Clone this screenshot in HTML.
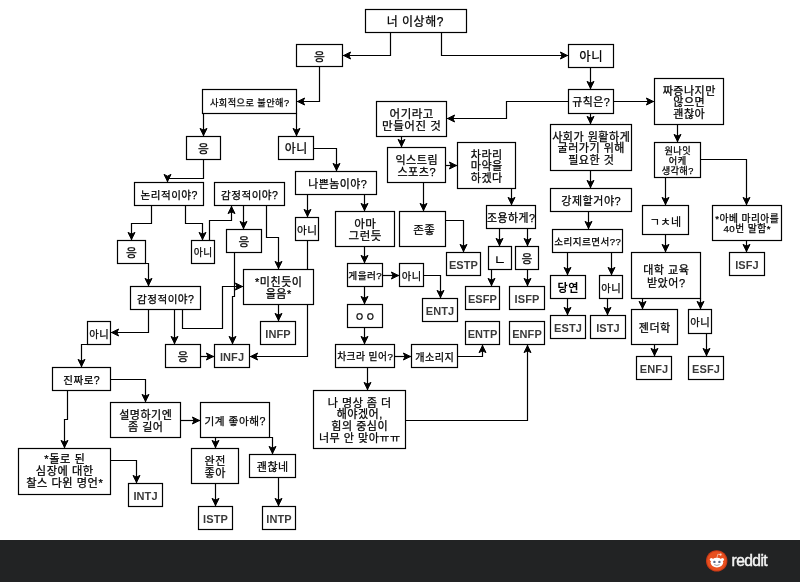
<!DOCTYPE html>
<html lang="ko">
<head>
<meta charset="utf-8">
<title>너 이상해? MBTI 순서도</title>
<style>
html,body{margin:0;padding:0;background:#fff;}
body{width:800px;height:582px;overflow:hidden;position:relative;font-family:"Liberation Sans", "Noto Sans CJK KR", sans-serif;}
svg{display:block;position:absolute;left:0;top:0;will-change:transform;}
.bx{fill:#fff;stroke:#000;stroke-width:1.2;}
.ln{fill:none;stroke:#000;stroke-width:1.2;}
.ah{fill:#000;stroke:#000;stroke-width:1;stroke-linejoin:miter;}
text{font-family:"Liberation Sans", "Noto Sans CJK KR", sans-serif;fill:#000;text-anchor:middle;}
.k{font-weight:400;stroke:#000;stroke-width:0.25px;}
.b{font-weight:700;}
.m{font-family:"Liberation Sans", sans-serif;font-weight:700;fill:#3a3a3a;letter-spacing:0.1px;}
.ft{fill:#222324;}
.rd{font-family:"Liberation Sans", sans-serif;fill:#f4f4f4;stroke:#f4f4f4;stroke-width:0.45px;text-anchor:start;font-size:15.6px;letter-spacing:-0.6px;}
</style>
</head>
<body>
<svg width="800" height="582" viewBox="0 0 800 582">
<rect x="0" y="0" width="800" height="582" fill="#fff"/>
<g class="lines">
<path class="ln" d="M390.5 32.5 L390.5 55.5 L342.5 55.5"/><polygon class="ah" points="343.60,55.50 350.60,52.00 348.85,55.50 350.60,59.00"/>
<path class="ln" d="M441.5 32.5 L441.5 55.5 L568.5 55.5"/><polygon class="ah" points="567.40,55.50 560.40,59.00 562.15,55.50 560.40,52.00"/>
<path class="ln" d="M319.5 66.5 L319.5 101.5 L296.5 101.5"/><polygon class="ah" points="297.60,101.50 304.60,98.00 302.85,101.50 304.60,105.00"/>
<path class="ln" d="M203.5 113.5 L203.5 136.5"/><polygon class="ah" points="203.50,135.40 200.00,128.40 203.50,130.15 207.00,128.40"/>
<path class="ln" d="M296.5 113.5 L296.5 136.5"/><polygon class="ah" points="296.50,135.40 293.00,128.40 296.50,130.15 300.00,128.40"/>
<path class="ln" d="M203.5 159.5 L203.5 178.5 L167.5 178.5 L167.5 182.5"/><polygon class="ah" points="167.50,181.40 164.00,174.40 167.50,176.15 171.00,174.40"/>
<path class="ln" d="M313.5 148.5 L336.5 148.5 L336.5 171.5"/><polygon class="ah" points="336.50,170.40 333.00,163.40 336.50,165.15 340.00,163.40"/>
<path class="ln" d="M151.5 205.5 L151.5 223.5 L131.5 223.5 L131.5 240.5"/><polygon class="ah" points="131.50,239.40 128.00,232.40 131.50,234.15 135.00,232.40"/>
<path class="ln" d="M185.5 205.5 L185.5 223.5 L202.5 223.5 L202.5 240.5"/><polygon class="ah" points="202.50,239.40 199.00,232.40 202.50,234.15 206.00,232.40"/>
<path class="ln" d="M209.5 240.5 L209.5 220.5 L231.5 220.5 L231.5 205.5"/><polygon class="ah" points="231.50,206.60 235.00,213.60 231.50,211.85 228.00,213.60"/>
<path class="ln" d="M243.5 205.5 L243.5 229.5"/><polygon class="ah" points="243.50,228.40 240.00,221.40 243.50,223.15 247.00,221.40"/>
<path class="ln" d="M266.5 205.5 L266.5 237.5 L278.5 237.5 L278.5 269.5"/><polygon class="ah" points="278.50,268.40 275.00,261.40 278.50,263.15 282.00,261.40"/>
<path class="ln" d="M234.5 252.5 L234.5 296.5 L232.5 296.5 L232.5 344.5"/><polygon class="ah" points="232.50,343.40 229.00,336.40 232.50,338.15 236.00,336.40"/>
<path class="ln" d="M145.5 263.5 L148.5 263.5 L148.5 286.5"/><polygon class="ah" points="148.50,285.40 145.00,278.40 148.50,280.15 152.00,278.40"/>
<path class="ln" d="M182.5 309.5 L182.5 328.5 L222.5 328.5 L222.5 286.5 L243.5 286.5"/><polygon class="ah" points="242.40,286.50 235.40,290.00 237.15,286.50 235.40,283.00"/>
<path class="ln" d="M278.5 304.5 L278.5 321.5"/><polygon class="ah" points="278.50,320.40 275.00,313.40 278.50,315.15 282.00,313.40"/>
<path class="ln" d="M148.5 309.5 L148.5 332.5 L110.5 332.5"/><polygon class="ah" points="111.60,332.50 118.60,329.00 116.85,332.50 118.60,336.00"/>
<path class="ln" d="M174.5 309.5 L174.5 344.5"/><polygon class="ah" points="174.50,343.40 171.00,336.40 174.50,338.15 178.00,336.40"/>
<path class="ln" d="M200.5 356.5 L214.5 356.5"/><polygon class="ah" points="213.40,356.50 206.40,360.00 208.15,356.50 206.40,353.00"/>
<path class="ln" d="M87.5 344.5 L81.5 344.5 L81.5 367.5"/><polygon class="ah" points="81.50,366.40 78.00,359.40 81.50,361.15 85.00,359.40"/>
<path class="ln" d="M110.5 379.5 L145.5 379.5 L145.5 402.5"/><polygon class="ah" points="145.50,401.40 142.00,394.40 145.50,396.15 149.00,394.40"/>
<path class="ln" d="M67.5 390.5 L67.5 419.5 L64.5 419.5 L64.5 448.5"/><polygon class="ah" points="64.50,447.40 61.00,440.40 64.50,442.15 68.00,440.40"/>
<path class="ln" d="M180.5 420.5 L200.5 420.5"/><polygon class="ah" points="199.40,420.50 192.40,424.00 194.15,420.50 192.40,417.00"/>
<path class="ln" d="M110.5 460.5 L136.5 460.5 L136.5 483.5"/><polygon class="ah" points="136.50,482.40 133.00,475.40 136.50,477.15 140.00,475.40"/>
<path class="ln" d="M215.5 437.5 L215.5 448.5"/><polygon class="ah" points="215.50,447.40 212.00,440.40 215.50,442.15 219.00,440.40"/>
<path class="ln" d="M269.5 437.5 L272.5 437.5 L272.5 454.5"/><polygon class="ah" points="272.50,453.40 269.00,446.40 272.50,448.15 276.00,446.40"/>
<path class="ln" d="M215.5 483.5 L215.5 506.5"/><polygon class="ah" points="215.50,505.40 212.00,498.40 215.50,500.15 219.00,498.40"/>
<path class="ln" d="M278.5 477.5 L278.5 506.5"/><polygon class="ah" points="278.50,505.40 275.00,498.40 278.50,500.15 282.00,498.40"/>
<path class="ln" d="M307.5 194.5 L307.5 217.5"/><polygon class="ah" points="307.50,216.40 304.00,209.40 307.50,211.15 311.00,209.40"/>
<path class="ln" d="M307.5 240.5 L307.5 356.5 L249.5 356.5"/><polygon class="ah" points="250.60,356.50 257.60,353.00 255.85,356.50 257.60,360.00"/>
<path class="ln" d="M364.5 194.5 L364.5 211.5"/><polygon class="ah" points="364.50,210.40 361.00,203.40 364.50,205.15 368.00,203.40"/>
<path class="ln" d="M364.5 246.5 L364.5 263.5"/><polygon class="ah" points="364.50,262.40 361.00,255.40 364.50,257.15 368.00,255.40"/>
<path class="ln" d="M382.5 275.5 L399.5 275.5"/><polygon class="ah" points="398.40,275.50 391.40,279.00 393.15,275.50 391.40,272.00"/>
<path class="ln" d="M423.5 275.5 L440.5 275.5 L440.5 298.5"/><polygon class="ah" points="440.50,297.40 437.00,290.40 440.50,292.15 444.00,290.40"/>
<path class="ln" d="M364.5 286.5 L364.5 304.5"/><polygon class="ah" points="364.50,303.40 361.00,296.40 364.50,298.15 368.00,296.40"/>
<path class="ln" d="M364.5 327.5 L364.5 344.5"/><polygon class="ah" points="364.50,343.40 361.00,336.40 364.50,338.15 368.00,336.40"/>
<path class="ln" d="M394.5 356.5 L411.5 356.5"/><polygon class="ah" points="410.40,356.50 403.40,360.00 405.15,356.50 403.40,353.00"/>
<path class="ln" d="M457.5 356.5 L482.5 356.5 L482.5 344.5"/><polygon class="ah" points="482.50,345.60 486.00,352.60 482.50,350.85 479.00,352.60"/>
<path class="ln" d="M367.5 367.5 L367.5 390.5"/><polygon class="ah" points="367.50,389.40 364.00,382.40 367.50,384.15 371.00,382.40"/>
<path class="ln" d="M405.5 420.5 L527.5 420.5 L527.5 344.5"/><polygon class="ah" points="527.50,345.60 531.00,352.60 527.50,350.85 524.00,352.60"/>
<path class="ln" d="M590.5 67.5 L590.5 89.5"/><polygon class="ah" points="590.50,88.40 587.00,81.40 590.50,83.15 594.00,81.40"/>
<path class="ln" d="M568.5 101.5 L506.5 101.5 L506.5 118.5 L446.5 118.5"/><polygon class="ah" points="447.60,118.50 454.60,115.00 452.85,118.50 454.60,122.00"/>
<path class="ln" d="M613.5 101.5 L654.5 101.5"/><polygon class="ah" points="653.40,101.50 646.40,105.00 648.15,101.50 646.40,98.00"/>
<path class="ln" d="M590.5 113.5 L590.5 124.5"/><polygon class="ah" points="590.50,123.40 587.00,116.40 590.50,118.15 594.00,116.40"/>
<path class="ln" d="M401.5 136.5 L401.5 147.5"/><polygon class="ah" points="401.50,146.40 398.00,139.40 401.50,141.15 405.00,139.40"/>
<path class="ln" d="M445.5 165.5 L457.5 165.5"/><polygon class="ah" points="456.40,165.50 449.40,169.00 451.15,165.50 449.40,162.00"/>
<path class="ln" d="M423.5 182.5 L423.5 211.5"/><polygon class="ah" points="423.50,210.40 420.00,203.40 423.50,205.15 427.00,203.40"/>
<path class="ln" d="M445.5 220.5 L463.5 220.5 L463.5 252.5"/><polygon class="ah" points="463.50,251.40 460.00,244.40 463.50,246.15 467.00,244.40"/>
<path class="ln" d="M511.5 188.5 L511.5 205.5"/><polygon class="ah" points="511.50,204.40 508.00,197.40 511.50,199.15 515.00,197.40"/>
<path class="ln" d="M499.5 228.5 L499.5 246.5"/><polygon class="ah" points="499.50,245.40 496.00,238.40 499.50,240.15 503.00,238.40"/>
<path class="ln" d="M527.5 228.5 L527.5 246.5"/><polygon class="ah" points="527.50,245.40 524.00,238.40 527.50,240.15 531.00,238.40"/>
<path class="ln" d="M491.5 269.5 L491.5 286.5"/><polygon class="ah" points="491.50,285.40 488.00,278.40 491.50,280.15 495.00,278.40"/>
<path class="ln" d="M527.5 269.5 L527.5 286.5"/><polygon class="ah" points="527.50,285.40 524.00,278.40 527.50,280.15 531.00,278.40"/>
<path class="ln" d="M590.5 170.5 L590.5 188.5"/><polygon class="ah" points="590.50,187.40 587.00,180.40 590.50,182.15 594.00,180.40"/>
<path class="ln" d="M588.5 211.5 L588.5 229.5"/><polygon class="ah" points="588.50,228.40 585.00,221.40 588.50,223.15 592.00,221.40"/>
<path class="ln" d="M567.5 252.5 L567.5 275.5"/><polygon class="ah" points="567.50,274.40 564.00,267.40 567.50,269.15 571.00,267.40"/>
<path class="ln" d="M611.5 252.5 L611.5 275.5"/><polygon class="ah" points="611.50,274.40 608.00,267.40 611.50,269.15 615.00,267.40"/>
<path class="ln" d="M567.5 298.5 L567.5 315.5"/><polygon class="ah" points="567.50,314.40 564.00,307.40 567.50,309.15 571.00,307.40"/>
<path class="ln" d="M607.5 298.5 L607.5 315.5"/><polygon class="ah" points="607.50,314.40 604.00,307.40 607.50,309.15 611.00,307.40"/>
<path class="ln" d="M677.5 124.5 L677.5 142.5"/><polygon class="ah" points="677.50,141.40 674.00,134.40 677.50,136.15 681.00,134.40"/>
<path class="ln" d="M665.5 177.5 L665.5 205.5"/><polygon class="ah" points="665.50,204.40 662.00,197.40 665.50,199.15 669.00,197.40"/>
<path class="ln" d="M700.5 159.5 L746.5 159.5 L746.5 205.5"/><polygon class="ah" points="746.50,204.40 743.00,197.40 746.50,199.15 750.00,197.40"/>
<path class="ln" d="M746.5 240.5 L746.5 252.5"/><polygon class="ah" points="746.50,251.40 743.00,244.40 746.50,246.15 750.00,244.40"/>
<path class="ln" d="M665.5 234.5 L665.5 252.5"/><polygon class="ah" points="665.50,251.40 662.00,244.40 665.50,246.15 669.00,244.40"/>
<path class="ln" d="M642.5 298.5 L642.5 309.5"/><polygon class="ah" points="642.50,308.40 639.00,301.40 642.50,303.15 646.00,301.40"/>
<path class="ln" d="M700.5 298.5 L700.5 309.5"/><polygon class="ah" points="700.50,308.40 697.00,301.40 700.50,303.15 704.00,301.40"/>
<path class="ln" d="M654.5 344.5 L654.5 356.5"/><polygon class="ah" points="654.50,355.40 651.00,348.40 654.50,350.15 658.00,348.40"/>
<path class="ln" d="M706.5 333.5 L706.5 356.5"/><polygon class="ah" points="706.50,355.40 703.00,348.40 706.50,350.15 710.00,348.40"/>
</g>
<g class="boxes">
<rect class="bx" x="365.5" y="9.5" width="101" height="23"/><text class="k" x="415.275" y="26.21" font-size="11.96" letter-spacing="0.55">너 이상해?</text>
<rect class="bx" x="296.5" y="44.5" width="46" height="22"/><text class="k" x="319.77" y="60.64" font-size="11.78" letter-spacing="0.54">응</text>
<rect class="bx" x="568.5" y="44.5" width="45" height="23"/><text class="k" x="591.285" y="61.37" font-size="12.42" letter-spacing="0.57">아니</text>
<rect class="bx" x="202.5" y="89.5" width="94" height="24"/><text class="k" x="249.71" y="105.71" font-size="9.2" letter-spacing="0.42">사회적으로 불안해?</text>
<rect class="bx" x="568.5" y="89.5" width="45" height="24"/><text class="k" x="591.25" y="106.31" font-size="10.86" letter-spacing="0.5">규칙은?</text>
<rect class="bx" x="186.5" y="136.5" width="34" height="23"/><text class="k" x="203.77" y="153.14" font-size="11.78" letter-spacing="0.54">응</text>
<rect class="bx" x="278.5" y="136.5" width="35" height="23"/><text class="k" x="296.275" y="153.21" font-size="11.96" letter-spacing="0.55">아니</text>
<rect class="bx" x="295.5" y="171.5" width="81" height="23"/><text class="k" x="337.75" y="187.81" font-size="10.86" letter-spacing="0.5">나쁜놈이야?</text>
<rect class="bx" x="134.5" y="182.5" width="69" height="23"/><text class="k" x="169.24" y="198.71" font-size="10.58" letter-spacing="0.48">논리적이야?</text>
<rect class="bx" x="214.5" y="182.5" width="70" height="23"/><text class="k" x="249.74" y="198.71" font-size="10.58" letter-spacing="0.48">감정적이야?</text>
<rect class="bx" x="117.5" y="240.5" width="28" height="23"/><text class="k" x="131.77" y="257.14" font-size="11.78" letter-spacing="0.54">응</text>
<rect class="bx" x="191.5" y="240.5" width="23" height="23"/><text class="k" x="203.225" y="256.41" font-size="9.75" letter-spacing="0.45">아니</text>
<rect class="bx" x="226.5" y="229.5" width="35" height="23"/><text class="k" x="244.27" y="246.14" font-size="11.78" letter-spacing="0.54">응</text>
<rect class="bx" x="295.5" y="217.5" width="23" height="23"/><text class="k" x="307.24" y="233.71" font-size="10.58" letter-spacing="0.48">아니</text>
<rect class="bx" x="335.5" y="211.5" width="59" height="35"/><text class="k" x="365.265" y="227.91" font-size="11.5" letter-spacing="0.53">아마</text><text class="k" x="365.265" y="240.16" font-size="11.5" letter-spacing="0.53">그런듯</text>
<rect class="bx" x="243.5" y="269.5" width="70" height="35"/><text class="k" x="278.75" y="285.99" font-size="11.04" letter-spacing="0.5">*미친듯이</text><text class="k" x="278.75" y="297.75" font-size="11.04" letter-spacing="0.5">울음*</text>
<rect class="bx" x="347.5" y="263.5" width="35" height="23"/><text class="k" x="365.22" y="279.38" font-size="9.66" letter-spacing="0.44">게을러?</text>
<rect class="bx" x="399.5" y="263.5" width="24" height="23"/><text class="k" x="411.735" y="279.61" font-size="10.3" letter-spacing="0.47">아니</text>
<rect class="bx" x="130.5" y="286.5" width="70" height="23"/><text class="k" x="165.74" y="302.71" font-size="10.58" letter-spacing="0.48">감정적이야?</text>
<rect class="bx" x="87.5" y="321.5" width="23" height="23"/><text class="k" x="99.235" y="337.61" font-size="10.3" letter-spacing="0.47">아니</text>
<rect class="bx" x="165.5" y="344.5" width="35" height="23"/><text class="k" x="183.27" y="361.14" font-size="11.78" letter-spacing="0.54">응</text>
<rect class="bx" x="214.5" y="344.5" width="35" height="23"/><text class="m" x="232" y="360.86" font-size="11">INFJ</text>
<rect class="bx" x="260.5" y="321.5" width="35" height="23"/><text class="m" x="278" y="337.86" font-size="11">INFP</text>
<rect class="bx" x="347.5" y="304.5" width="35" height="23"/><text class="k" x="365.25" y="320.87" font-size="11.04" letter-spacing="0.5">ㅇㅇ</text>
<rect class="bx" x="335.5" y="344.5" width="59" height="23"/><text class="k" x="365.225" y="360.41" font-size="9.75" letter-spacing="0.45">차크라 믿어?</text>
<rect class="bx" x="411.5" y="344.5" width="46" height="23"/><text class="k" x="434.73" y="360.54" font-size="10.12" letter-spacing="0.46">개소리지</text>
<rect class="bx" x="52.5" y="367.5" width="58" height="23"/><text class="k" x="81.74" y="383.71" font-size="10.58" letter-spacing="0.48">진짜로?</text>
<rect class="bx" x="110.5" y="402.5" width="70" height="35"/><text class="k" x="145.75" y="418.99" font-size="11.04" letter-spacing="0.5">설명하기엔</text><text class="k" x="145.75" y="430.75" font-size="11.04" letter-spacing="0.5">좀 길어</text>
<rect class="bx" x="200.5" y="402.5" width="69" height="35"/><text class="k" x="235.245" y="424.74" font-size="10.67" letter-spacing="0.49">기계 좋아해?</text>
<rect class="bx" x="313.5" y="390.5" width="92" height="58"/><text class="k" x="359.75" y="406.73" font-size="11.04" letter-spacing="0.5">나 명상 좀 더</text><text class="k" x="359.75" y="418.49" font-size="11.04" letter-spacing="0.5">해야겠어,</text><text class="k" x="359.75" y="430.25" font-size="11.04" letter-spacing="0.5">힘의 중심이</text><text class="k" x="359.75" y="442.01" font-size="11.04" letter-spacing="0.5">너무 안 맞아ㅠㅠ</text>
<rect class="bx" x="18.5" y="448.5" width="92" height="46"/><text class="k" x="64.755" y="463.34" font-size="11.22" letter-spacing="0.51">*돌로 된</text><text class="k" x="64.755" y="475.24" font-size="11.22" letter-spacing="0.51">심장에 대한</text><text class="k" x="64.755" y="487.14" font-size="11.22" letter-spacing="0.51">찰스 다윈 명언*</text>
<rect class="bx" x="128.5" y="483.5" width="34" height="23"/><text class="m" x="145.5" y="499.86" font-size="11">INTJ</text>
<rect class="bx" x="191.5" y="448.5" width="47" height="35"/><text class="k" x="215.25" y="464.99" font-size="11.04" letter-spacing="0.5">완전</text><text class="k" x="215.25" y="476.75" font-size="11.04" letter-spacing="0.5">좋아</text>
<rect class="bx" x="249.5" y="454.5" width="46" height="23"/><text class="k" x="272.75" y="470.87" font-size="11.04" letter-spacing="0.5">괜찮네</text>
<rect class="bx" x="198.5" y="506.5" width="34" height="23"/><text class="m" x="215.5" y="522.86" font-size="11">ISTP</text>
<rect class="bx" x="262.5" y="506.5" width="33" height="23"/><text class="m" x="279" y="522.86" font-size="11">INTP</text>
<rect class="bx" x="376.5" y="101.5" width="70" height="35"/><text class="k" x="411.765" y="117.92" font-size="11.5" letter-spacing="0.53">어기라고</text><text class="k" x="411.765" y="130.16" font-size="11.5" letter-spacing="0.53">만들어진 것</text>
<rect class="bx" x="387.5" y="147.5" width="58" height="35"/><text class="k" x="416.75" y="163.99" font-size="11.04" letter-spacing="0.5">익스트림</text><text class="k" x="416.75" y="175.75" font-size="11.04" letter-spacing="0.5">스포츠?</text>
<rect class="bx" x="457.5" y="142.5" width="58" height="46"/><text class="k" x="486.75" y="158.61" font-size="11.04" letter-spacing="0.5">차라리</text><text class="k" x="486.75" y="170.37" font-size="11.04" letter-spacing="0.5">마약을</text><text class="k" x="486.75" y="182.13" font-size="11.04" letter-spacing="0.5">하겠다</text>
<rect class="bx" x="399.5" y="211.5" width="46" height="35"/><text class="k" x="424.265" y="234.04" font-size="11.5" letter-spacing="0.53">존좋</text>
<rect class="bx" x="446.5" y="252.5" width="34" height="23"/><text class="m" x="463.5" y="268.86" font-size="11">ESTP</text>
<rect class="bx" x="486.5" y="205.5" width="49" height="23"/><text class="k" x="511.25" y="221.81" font-size="10.86" letter-spacing="0.5">조용하게?</text>
<rect class="bx" x="488.5" y="246.5" width="23" height="23"/><text class="k" x="500.295" y="264.34" font-size="12.88" letter-spacing="0.59">ㄴ</text>
<rect class="bx" x="515.5" y="246.5" width="23" height="23"/><text class="k" x="527.27" y="263.14" font-size="11.78" letter-spacing="0.54">응</text>
<rect class="bx" x="465.5" y="286.5" width="34" height="23"/><text class="m" x="482.5" y="302.86" font-size="11">ESFP</text>
<rect class="bx" x="509.5" y="286.5" width="35" height="23"/><text class="m" x="527" y="302.86" font-size="11">ISFP</text>
<rect class="bx" x="465.5" y="321.5" width="34" height="23"/><text class="m" x="482.5" y="337.86" font-size="11">ENTP</text>
<rect class="bx" x="509.5" y="321.5" width="35" height="23"/><text class="m" x="527" y="337.86" font-size="11">ENFP</text>
<rect class="bx" x="422.5" y="298.5" width="35" height="23"/><text class="m" x="440" y="314.86" font-size="11">ENTJ</text>
<rect class="bx" x="550.5" y="124.5" width="81" height="46"/><text class="k" x="591.25" y="140.61" font-size="11.04" letter-spacing="0.5">사회가 원활하게</text><text class="k" x="591.25" y="152.37" font-size="11.04" letter-spacing="0.5">굴러가기 위해</text><text class="k" x="591.25" y="164.13" font-size="11.04" letter-spacing="0.5">필요한 것</text>
<rect class="bx" x="550.5" y="188.5" width="81" height="23"/><text class="k" x="591.25" y="204.87" font-size="11.04" letter-spacing="0.5">강제할거야?</text>
<rect class="bx" x="552.5" y="229.5" width="70" height="23"/><text class="k" x="587.72" y="245.35" font-size="9.57" letter-spacing="0.44">소리지르면서??</text>
<rect class="bx" x="550.5" y="275.5" width="35" height="23"/><text class="b" x="568.25" y="291.87" font-size="11.04" letter-spacing="0.5">당연</text>
<rect class="bx" x="599.5" y="275.5" width="23" height="23"/><text class="k" x="611.235" y="291.61" font-size="10.3" letter-spacing="0.47">아니</text>
<rect class="bx" x="550.5" y="315.5" width="35" height="23"/><text class="m" x="568" y="331.86" font-size="11">ESTJ</text>
<rect class="bx" x="590.5" y="315.5" width="35" height="23"/><text class="m" x="608" y="331.86" font-size="11">ISTJ</text>
<rect class="bx" x="654.5" y="78.5" width="69" height="46"/><text class="k" x="689.25" y="94.61" font-size="11.04" letter-spacing="0.5">짜증나지만</text><text class="k" x="689.25" y="106.37" font-size="11.04" letter-spacing="0.5">않으면</text><text class="k" x="689.25" y="118.13" font-size="11.04" letter-spacing="0.5">괜찮아</text>
<rect class="bx" x="654.5" y="142.5" width="46" height="35"/><text class="k" x="677.71" y="154.41" font-size="9.2" letter-spacing="0.42">원나잇</text><text class="k" x="677.71" y="164.21" font-size="9.2" letter-spacing="0.42">어케</text><text class="k" x="677.71" y="174.01" font-size="9.2" letter-spacing="0.42">생각해?</text>
<rect class="bx" x="642.5" y="205.5" width="46" height="29"/><text class="k" x="665.75" y="226.37" font-size="11.04" letter-spacing="0.5">ㄱㅊ네</text>
<rect class="bx" x="712.5" y="205.5" width="69" height="35"/><text class="k" x="747.225" y="221.81" font-size="9.75" letter-spacing="0.45">*아베 마리아를</text><text class="k" x="747.225" y="231.81" font-size="9.75" letter-spacing="0.45">40번 말함*</text>
<rect class="bx" x="729.5" y="252.5" width="35" height="23"/><text class="m" x="747" y="268.86" font-size="11">ISFJ</text>
<rect class="bx" x="631.5" y="252.5" width="69" height="46"/><text class="k" x="666.25" y="274.12" font-size="11.04" letter-spacing="0.5">대학 교육</text><text class="k" x="666.25" y="286.62" font-size="11.04" letter-spacing="0.5">받았어?</text>
<rect class="bx" x="631.5" y="309.5" width="46" height="35"/><text class="k" x="654.75" y="331.87" font-size="11.04" letter-spacing="0.5">젠더학</text>
<rect class="bx" x="688.5" y="309.5" width="23" height="24"/><text class="k" x="700.235" y="326.11" font-size="10.3" letter-spacing="0.47">아니</text>
<rect class="bx" x="636.5" y="356.5" width="35" height="23"/><text class="m" x="654" y="372.86" font-size="11">ENFJ</text>
<rect class="bx" x="688.5" y="356.5" width="35" height="23"/><text class="m" x="706" y="372.86" font-size="11">ESFJ</text>
</g>
<rect class="ft" x="0" y="540" width="800" height="42"/>
<g class="reddit">
<circle cx="716.7" cy="560.9" r="10.7" fill="#c93a17"/>
<circle cx="716.7" cy="560.9" r="9.6" fill="#e8501f"/>
<ellipse cx="716.9" cy="562.6" rx="6.3" ry="4.8" fill="#fff"/>
<circle cx="711.4" cy="559.6" r="1.6" fill="#fff"/>
<circle cx="722.4" cy="559.6" r="1.6" fill="#fff"/>
<circle cx="720.6" cy="554.6" r="1.1" fill="#f6d3c6"/>
<path d="M716.9 558 L717.8 554.2 L720.6 554.7" fill="none" stroke="#f6d3c6" stroke-width="0.7"/>
<circle cx="714.4" cy="561.9" r="1.2" fill="#5a6a8a"/>
<circle cx="719.4" cy="561.9" r="1.2" fill="#5a6a8a"/>
<path d="M714.5 564.8 Q716.9 566.3 719.3 564.8" fill="none" stroke="#777" stroke-width="0.7" stroke-linecap="round"/>
<text class="rd" x="731.6" y="566.4">reddit</text>
</g>
</svg>
</body>
</html>
